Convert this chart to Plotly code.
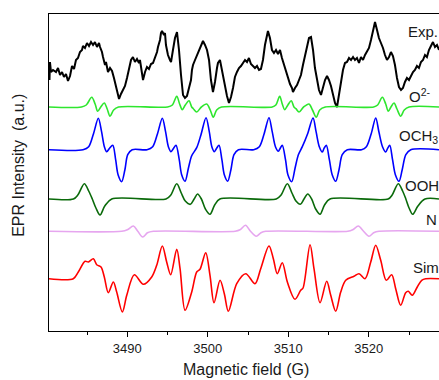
import plotly.graph_objects as go

# ---------------- data (field in G, intensity in a.u. relative to each trace's baseline) -------------
exp_field = [3480.27, 3480.33, 3480.39, 3480.52, 3480.77, 3481.14, 3481.39, 3481.64, 3481.89, 3482.13,
             3482.38, 3482.63, 3482.88, 3483.13, 3483.38, 3483.62, 3483.87, 3484.12, 3484.37, 3484.49,
             3484.74, 3484.99, 3485.24, 3485.49, 3485.74, 3485.98, 3486.23, 3486.48, 3486.61, 3486.85,
             3486.98, 3487.23, 3487.35, 3487.60, 3487.85, 3488.10, 3488.34, 3488.59, 3488.84, 3488.97,
             3489.21, 3489.46, 3489.71, 3489.96, 3490.21, 3490.46, 3490.70, 3490.95, 3491.20, 3491.45,
             3491.57, 3491.82, 3491.95, 3492.20, 3492.44, 3492.69, 3492.94, 3493.19, 3493.44, 3493.69,
             3493.81, 3494.06, 3494.18, 3494.31, 3494.56, 3494.68, 3494.80, 3495.05, 3495.30, 3495.43,
             3495.67, 3495.92, 3496.17, 3496.42, 3496.67, 3496.92, 3497.16, 3497.41, 3497.66, 3497.91,
             3498.03, 3498.16, 3498.41, 3498.66, 3498.90, 3499.15, 3499.40, 3499.65, 3499.90, 3500.15,
             3500.39, 3500.64, 3500.89, 3501.14, 3501.26, 3501.51, 3501.76, 3502.01, 3502.38, 3502.63,
             3502.88, 3503.13, 3503.37, 3503.62, 3503.87, 3504.12, 3504.37, 3504.62, 3504.87, 3505.11,
             3505.36, 3505.61, 3505.86, 3506.11, 3506.36, 3506.60, 3506.85, 3507.10, 3507.35, 3507.47,
             3507.72, 3507.97, 3508.22, 3508.47, 3508.72, 3508.97, 3509.21, 3509.46, 3509.71, 3509.96,
             3510.21, 3510.46, 3510.58, 3510.83, 3511.08, 3511.33, 3511.57, 3511.82, 3512.07, 3512.32,
             3512.57, 3512.82, 3513.07, 3513.31, 3513.56, 3513.81, 3514.06, 3514.31, 3514.56, 3514.81,
             3515.05, 3515.30, 3515.55, 3515.80, 3516.05, 3516.30, 3516.54, 3516.79, 3517.04, 3517.29,
             3517.54, 3517.79, 3518.04, 3518.28, 3518.53, 3518.78, 3519.03, 3519.28, 3519.53, 3519.77,
             3520.02, 3520.27, 3520.52, 3520.77, 3521.02, 3521.26, 3521.51, 3521.76, 3522.01, 3522.26,
             3522.51, 3522.75, 3523.00, 3523.25, 3523.50, 3523.75, 3524.00, 3524.24, 3524.49, 3524.74,
             3524.99, 3525.24, 3525.49, 3525.73, 3525.98, 3526.23, 3526.48, 3526.73, 3526.98, 3527.22,
             3527.47, 3527.72, 3527.97, 3528.22, 3528.47, 3528.72]
exp_int = [1, -15, 3, -7, -5, -7, -3, -10, -7, -12,
           -9, -16, -11, -1, -4, 5, 7, 13, 15, 19,
           17, 22, 19, 23, 20, 23, 18, 22, 18, 13,
           8, 0, 3, -7, -3, -6, -13, -21, -30, -34,
           -29, -25, -21, -13, -5, 5, 8, 3, 6, 2,
           5, -7, -15, -7, -2, -4, 1, 2, 7, 13,
           18, 25, 32, 34, 30, 32, 20, 10, 5, 3,
           15, 27, 33, 15, -10, -30, -33, -31, -23, -15,
           -5, 0, 5, 10, 15, 20, 24, 20, 15, 5,
           -15, -27, -17, -3, 2, 5, -5, -17, -31, -38,
           -32, -23, -12, -7, -3, -1, 2, 5, 3, 7,
           1, -1, -3, -1, -5, -4, 5, 20, 30, 34,
           27, 15, 12, 15, 11, 15, 7, 0, -7, -13,
           -19, -23, -27, -23, -20, -15, -10, 0, 10, 20,
           27, 28, 15, -3, -15, -25, -30, -23, -15, -11,
           -15, -21, -30, -38, -42, -30, -15, -5, 2, 3,
           7, 5, 8, 5, 7, 2, 8, 5, 10, 13,
           17, 25, 35, 43, 35, 27, 22, 17, 10, 5,
           8, 13, 9, 0, -13, -22, -25, -23, -17, -13,
           -15, -10, -7, -5, -1, -3, 3, 5, 10, 8,
           15, 19, 23, 18, 20, 15]

o2_field = [3480.27, 3484.30, 3484.90, 3485.58, 3486.00, 3486.32, 3486.70, 3487.14, 3487.50, 3487.85,
            3488.30, 3488.90, 3495.00, 3495.60, 3496.14, 3496.50, 3496.83, 3497.20, 3497.66, 3498.00,
            3498.20, 3498.62, 3499.20, 3499.86, 3500.30, 3500.68, 3501.10, 3501.70, 3508.00, 3508.45,
            3508.93, 3509.25, 3509.55, 3509.95, 3510.37, 3510.70, 3510.95, 3511.33, 3511.90, 3512.57,
            3513.00, 3513.48, 3513.90, 3514.60, 3520.60, 3521.10, 3521.68, 3522.10, 3522.42, 3522.75,
            3523.13, 3523.50, 3523.96, 3524.40, 3525.00, 3528.72]
o2_int = [0, 0, 2, 9.7, 3, -4.3, 0, 4, -2, -9.3,
          -3, 0, 0, 2, 10.7, 3, -2.7, 2, 6.3, 0,
          -1.7, -5, 0, 3, -3, -10.3, -3, 0, 0, 2,
          10.7, 3, -2.7, 2, 6.3, 0, -1.7, -5, 0, 3,
          -3, -10.3, -3, 0, 0, 2, 9.7, 3, -4.3, 0,
          4, -2, -9.3, -3, 0, 0]

och3_field = [3480.27, 3484.50, 3485.20, 3485.80, 3486.40, 3486.80, 3487.15, 3487.44, 3487.80, 3488.19,
              3488.55, 3488.85, 3489.30, 3489.70, 3490.05, 3490.60, 3492.45, 3493.15, 3493.75, 3494.35,
              3494.75, 3495.10, 3495.43, 3495.75, 3496.05, 3496.45, 3496.75, 3497.17, 3497.60, 3498.00,
              3498.62, 3499.15, 3499.78, 3500.18, 3500.50, 3500.81, 3501.10, 3501.39, 3501.75, 3502.05,
              3502.47, 3502.87, 3503.25, 3503.80, 3505.70, 3506.40, 3507.00, 3507.60, 3508.00, 3508.40,
              3508.76, 3509.00, 3509.25, 3509.65, 3509.95, 3510.42, 3510.85, 3511.25, 3511.74, 3512.40,
              3513.07, 3513.45, 3513.85, 3514.22, 3514.45, 3514.72, 3515.10, 3515.45, 3515.89, 3516.30,
              3516.70, 3517.33, 3519.10, 3519.70, 3520.30, 3520.86, 3521.25, 3521.70, 3522.10, 3522.35,
              3522.60, 3522.95, 3523.30, 3523.75, 3524.15, 3524.60, 3525.21, 3528.72]
och3_int = [0, 0, 3, 16, 31.5, 18, 3, -2, 1.5, 4.4,
            -10, -25, -32, -20, -5, 0, 0, 3, 16, 31.5,
            18, 3, -2, 1.5, 4.4, -10, -25, -31.5, -18, -6,
            2, 15, 32, 18, 3, -2, 1.5, 4.4, -10, -25,
            -31.5, -20, -5, 0, 0, 3, 16, 32, 18, 3,
            -1.6, 1.5, 4.4, -10, -25, -32, -18, -5, 3, 16,
            31.7, 18, 3, -2.3, 1.5, 4.4, -10, -25, -31.6, -20,
            -5, 0, 0, 3, 16, 31.7, 18, 3, -2.3, 1.5,
            4.4, -10, -25, -31.6, -20, -5, 0, 0]

ooh_field = [3480.27, 3483.30, 3483.85, 3484.66, 3485.20, 3485.65, 3486.10, 3486.61, 3487.20, 3488.06,
             3494.80, 3495.40, 3496.14, 3496.70, 3497.20, 3497.83, 3498.30, 3498.72, 3499.20, 3499.70,
             3500.27, 3500.85, 3501.50, 3508.50, 3509.10, 3509.88, 3510.45, 3510.95, 3511.49, 3511.95,
             3512.41, 3512.90, 3513.40, 3513.94, 3514.50, 3515.18, 3522.40, 3522.90, 3523.66, 3524.20,
             3524.60, 3525.00, 3525.45, 3526.10, 3526.98, 3528.72]
ooh_int = [0, 0, 4, 15.3, 8, 0, -9, -16, -7, 0,
           0, 4, 15.3, 6, -2, -5.3, 0, 5, 0, -10,
           -15.3, -6, 0, 0, 4, 15.3, 6, -2, -5.3, 0,
           5, 0, -10, -15.3, -6, 0, 0, 4, 15.3, 8,
           0, -9, -15.3, -7, 0, 0]

n_field = [3480.27, 3489.30, 3490.00, 3490.75, 3491.30, 3491.91, 3492.50, 3493.23, 3503.40, 3504.00,
           3504.68, 3505.30, 3506.02, 3506.60, 3507.20, 3517.40, 3518.00, 3518.70, 3519.35, 3520.02,
           3520.60, 3521.27, 3528.72]
n_int = [0, 0, 1.5, 5.3, 0, -5.7, -1.5, 0, 0, 1.5,
         6, 0, -5, -1.5, 0, 0, 1.5, 5.3, 0, -5,
         -1.5, 0, 0]

sim_field = [3480.27, 3483.29, 3483.91, 3484.75, 3485.16, 3485.78, 3486.20, 3486.73, 3487.14, 3487.64,
             3488.26, 3488.68, 3489.38, 3489.93, 3490.87, 3491.99, 3493.03, 3493.65, 3494.35, 3494.89,
             3495.39, 3496.14, 3496.55, 3497.17, 3498.00, 3498.62, 3499.03, 3499.74, 3500.27, 3500.77,
             3501.52, 3502.05, 3502.55, 3503.59, 3504.71, 3505.86, 3506.57, 3507.60, 3508.14, 3508.63,
             3509.25, 3509.88, 3510.83, 3511.54, 3511.83, 3512.70, 3513.19, 3513.94, 3514.77, 3515.27,
             3515.89, 3516.51, 3517.13, 3518.16, 3518.78, 3519.53, 3520.24, 3520.86, 3521.48, 3522.17,
             3522.84, 3523.34, 3523.96, 3524.58, 3524.91, 3525.40, 3526.02, 3526.57, 3527.07, 3528.72]
sim_int = [0, 0, 6.7, 17.4, 16.7, 20, 14, 11.7, 1.7, -14,
           -3.3, -13.3, -33.3, -16.6, 4, -5.6, 1.7, 13.4, 32.7, 16.7,
           4, 29.4, 10, -31.6, -13.3, 6.7, 9.4, 26, 3.4, -24,
           -1.6, -15, -32.6, -5, 5, -5, 10, 32.7, 20, 5,
           16, -3.3, -20.6, -11.6, -9.3, 34, 10, -24, -2.6, -16.6,
           -32.6, -13.3, -1.6, 2.4, 5, 0, 16.7, 33.4, 18.4, -1.6,
           4, -10, -26.6, -14, -12.6, -16.6, -8.3, -1.6, 0, 0]

series_labels = ["Exp.", "O<sup>2-</sup>", "OCH<sub>3</sub>", "OOH", "N", "Sim"]
baselines = [266, 224, 181.3, 132, 99.7, 52.3]
label_y = [300, 236, 195, 146, 111.5, 64]
label_field = [3524.65, 3524.75, 3523.55, 3524.2, 3526.85, 3525.25]
colors = ["#000000", "#2ee62e", "#0000ff", "#0a6a0a", "#e6a6ef", "#ff0000"]

fields = [exp_field, o2_field, och3_field, ooh_field, n_field, sim_field]
ints = [exp_int, o2_int, och3_int, ooh_int, n_int, sim_int]

fig = go.Figure()
for i, (fx, iy) in enumerate(zip(fields, ints)):
    yy = [baselines[i] + v for v in iy]
    fig.add_trace(go.Scatter(
        x=fx, y=yy, mode="lines",
        line=dict(color=colors[i], width=2.0 if i == 0 else 1.6,
                  shape="linear" if i == 0 else "spline", smoothing=0.9 if i else None),
        showlegend=False, hoverinfo="skip"))

for i, lab in enumerate(series_labels):
    fig.add_annotation(x=label_field[i], y=label_y[i], xref="x", yref="y", text=lab,
                       showarrow=False, xanchor="left", yanchor="middle",
                       font=dict(family="Arial, Liberation Sans, sans-serif", size=15, color="#1a1a1a"))

fig.add_annotation(x=-0.077, y=0.524, xref="paper", yref="paper",
                   text="EPR Intensity\u00a0\u00a0(a.u.)", textangle=-90, showarrow=False,
                   xanchor="center", yanchor="middle",
                   font=dict(family="Arial, Liberation Sans, sans-serif", size=16, color="#1a1a1a"))
fig.add_annotation(x=0.504, y=-0.123, xref="paper", yref="paper",
                   text="Magnetic field (G)", showarrow=False,
                   xanchor="center", yanchor="middle",
                   font=dict(family="Arial, Liberation Sans, sans-serif", size=16, color="#1a1a1a"))

fig.update_layout(
    width=439, height=380,
    margin=dict(l=49, r=0, t=14, b=49),
    paper_bgcolor="white", plot_bgcolor="white",
    xaxis=dict(range=[3480.27, 3528.72], showgrid=False, zeroline=False,
               showline=True, linecolor="black", linewidth=1.3, mirror=True,
               ticks="outside", ticklen=5, tickwidth=1, tickcolor="black",
               tick0=3490, dtick=10,
               minor=dict(ticks="outside", ticklen=3, tickcolor="black", dtick=5, tick0=3485),
               tickfont=dict(family="Arial, Liberation Sans, sans-serif", size=13, color="#1a1a1a")),
    yaxis=dict(range=[0, 317], showgrid=False, zeroline=False, showticklabels=False,
               showline=True, linecolor="black", linewidth=1.3, mirror=False, ticks=""),
)

# remove the page's default body margin so the 439x380 figure fills the window exactly
fig.write_html("out.html", config={"responsive": False, "displayModeBar": False},
               post_script="document.body.style.margin='0';"
                           "document.body.style.padding='0';"
                           "document.documentElement.style.overflow='hidden';"
                           "document.body.style.overflow='hidden';")
